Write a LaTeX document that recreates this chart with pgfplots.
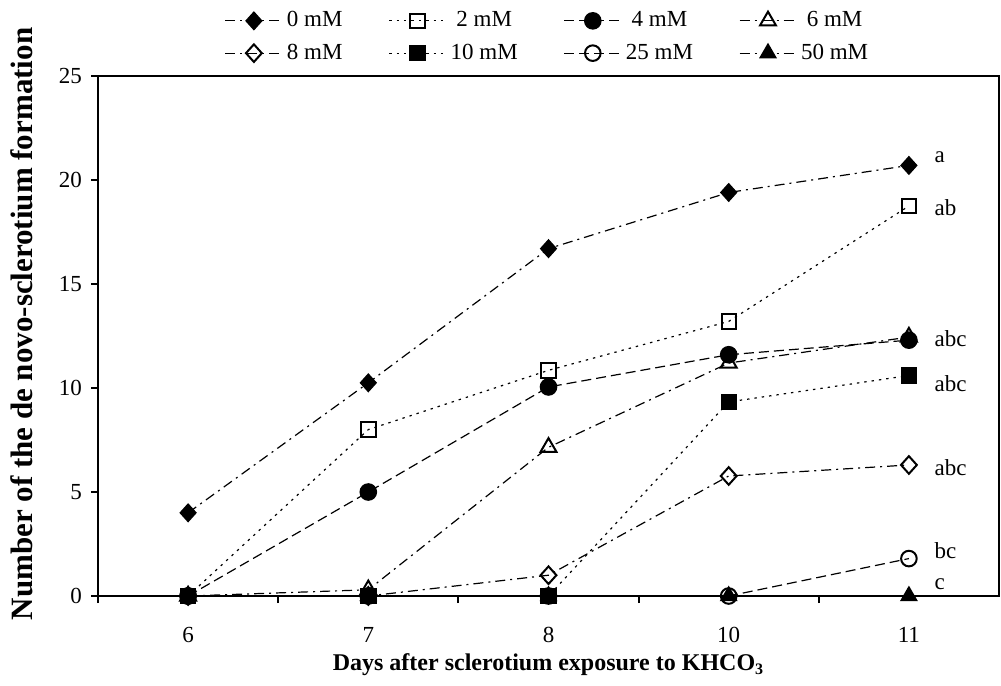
\documentclass[border=0pt]{standalone}
\usepackage{fontspec}
\setmainfont{Liberation Serif}
\usepackage{pgfplots}
\pgfplotsset{compat=1.18}
\begin{document}
\begin{tikzpicture}
\begin{axis}[
  name=ax,
  width=450.5pt, height=260pt, scale only axis,
  xmin=-0.5, xmax=4.5, ymin=0, ymax=25,
  xtick={0,1,2,3,4}, xticklabels={6,7,8,10,11},
  major x tick style={draw=none},
  minor xtick={-0.5,0.5,1.5,2.5,3.5},
  ytick={0,5,10,15,20,25},
  tick align=outside, tick pos=left,
  major tick length=3.5pt, minor tick length=3.5pt,
  every tick/.style={black, line width=1pt},
  axis line style={line width=1pt},
  /pgf/number format/assume math mode=true,
  tick label style={font=\fontsize{11.5}{13}\selectfont},
  xticklabel style={anchor=center, yshift=-16pt},
  yticklabel style={xshift=-1pt},
  xlabel={\bfseries Days after sclerotium exposure to KHCO\textsubscript{3}},
  ylabel={\bfseries Number of the de novo-sclerotium formation},
  xlabel style={font=\fontsize{12}{14}\selectfont, at={(axis description cs:0.5,-0.1327)}, anchor=center},
  ylabel style={font=\fontsize{15.5}{17}\selectfont, at={(axis description cs:-0.0844,0.523)}, anchor=center},
  clip=false,
  legend columns=4,
  legend style={draw=none, fill=none, font=\fontsize{11.5}{13}\selectfont,
    at={(axis description cs:0.5,1.075)}, anchor=center,
    /tikz/every even column/.append style={column sep=21pt},
    row sep=3pt},
  legend image code/.code={\draw[mark repeat=2,mark phase=2] plot coordinates {(0cm,0cm)(0.5cm,0cm)(1cm,0cm)};},
  every axis plot/.append style={black, line width=0.6pt},
  dashdot/.style={dash pattern=on 5pt off 2.5pt on 1pt off 2.5pt},
  dotty/.style={dash pattern=on 1.2pt off 2.5pt},
  dashy/.style={dash pattern=on 5pt off 2.5pt},
]
% 0 mM
\addplot[dashdot, mark=diamond*, mark size=4.4pt, mark options={solid, fill=black, xscale=1.2}]
  coordinates {(0,4.0)(1,10.25)(2,16.7)(3,19.4)(4,20.7)};
\addlegendentry{0 mM}
% 2 mM
\addplot[dotty, mark=square, mark size=3.6pt, mark options={solid, fill=white, line width=1pt}]
  coordinates {(0,0)(1,8.0)(2,10.85)(3,13.2)(4,18.75)};
\addlegendentry{2 mM}
% 4 mM
\addplot[dashy, mark=*, mark size=4.1pt, mark options={solid, fill=black}]
  coordinates {(0,0)(1,5.0)(2,10.05)(3,11.6)(4,12.3)};
\addlegendentry{4 mM}
% 6 mM
\addplot[dashdot, mark=triangle, mark size=4.6pt, mark options={solid, fill=white, line width=1pt}]
  coordinates {(0,0)(1,0.3)(2,7.15)(3,11.2)(4,12.45)};
\addlegendentry{6 mM}
% 8 mM
\addplot[dashdot, mark=diamond, mark size=4.4pt, mark options={solid, fill=white, line width=1pt, xscale=1.2}]
  coordinates {(0,0)(1,0)(2,1.0)(3,5.77)(4,6.3)};
\addlegendentry{8 mM}
% 10 mM
\addplot[dotty, mark=square*, mark size=3.8pt, mark options={solid, fill=black}]
  coordinates {(0,0)(1,0)(2,0)(3,9.33)(4,10.6)};
\addlegendentry{10 mM}
% 25 mM
\addplot[dashy, mark=o, mark size=3.9pt, mark options={solid, fill=white, line width=1pt}]
  coordinates {(0,0)(1,0)(2,0)(3,0)(4,1.8)};
\addlegendentry{25 mM}
% 50 mM
\addplot[dashdot, mark=triangle*, mark size=4.6pt, mark options={solid, fill=black}]
  coordinates {(0,0)(1,0)(2,0)(3,0)(4,0)};
\addlegendentry{50 mM}
% significance letters
\begin{scope}[every node/.style={anchor=west, font=\fontsize{11.5}{13}\selectfont, inner sep=0pt}]
\node at (axis cs:4.14,21.1) {a};
\node at (axis cs:4.14,18.65) {ab};
\node at (axis cs:4.14,12.35) {abc};
\node at (axis cs:4.14,10.2) {abc};
\node at (axis cs:4.14,6.15) {abc};
\node at (axis cs:4.14,2.2) {bc};
\node at (axis cs:4.14,0.55) {c};
\end{scope}
\end{axis}
% page frame with the reference's margins
\pgfresetboundingbox
\path ([shift={(-49pt,-44.5pt)}]ax.south west) rectangle ([shift={(1pt,38pt)}]ax.north east);
\end{tikzpicture}
\end{document}
